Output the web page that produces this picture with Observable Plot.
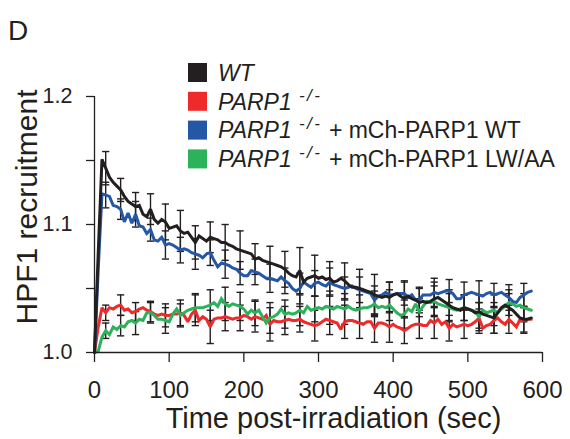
<!DOCTYPE html>
<html><head><meta charset="utf-8">
<script src="https://cdn.jsdelivr.net/npm/d3@7"></script>
<script src="https://cdn.jsdelivr.net/npm/@observablehq/plot@0.6"></script>
<style>
body{margin:0;background:#fff;}
#wrap{position:relative;width:570px;height:439px;font-family:"Liberation Sans",Arial,Helvetica,sans-serif;color:#231f20;}
#wrap > svg{position:absolute;left:0;top:0;}
#wrap g[aria-label="x-axis tick label"], #wrap g[aria-label="x-axis tick label"] text{font-size:24px !important;}
#wrap g[aria-label="y-axis tick label"], #wrap g[aria-label="y-axis tick label"] text{font-size:21.5px !important;}
</style></head><body><div id="wrap"></div>
<script>
const panelLabel = "D";
const xLabel = "Time post-irradiation (sec)";
const yLabel = "HPF1 recruitment";
const xTicks = [0, 100, 200, 300, 400, 500, 600];
const yTicks = [1.0, 1.05, 1.1, 1.15, 1.2];
const yTickLabels = ["1.0", "", "1.1", "", "1.2"];

const names = ["WT", "PARP1 -/-", "PARP1 -/- + mCh-PARP1 WT", "PARP1 -/- + mCh-PARP1 LW/AA"];
const colors = ["#231f20", "#ee2a2b", "#2457a6", "#2bb25a"];
const suffixes = ["", "", " + mCh-PARP1 WT", " + mCh-PARP1 LW/AA"];

const times = [0,5,10,15,20,25,30,35,40,45,50,55,60,65,70,75,80,85,90,95,100,105,110,115,120,125,130,135,140,145,150,155,160,165,170,175,180,185,190,195,200,205,210,215,220,225,230,235,240,245,250,255,260,265,270,275,280,285,290,295,300,305,310,315,320,325,330,335,340,345,350,355,360,365,370,375,380,385,390,395,400,405,410,415,420,425,430,435,440,445,450,455,460,465,470,475,480,485,490,495,500,505,510,515,520,525,530,535,540,545,550,555,560,565,570,575,580,585];

const wt = [1.000,1.078,1.151,1.144,1.137,1.133,1.130,1.127,1.122,1.118,1.116,1.114,1.115,1.108,1.106,1.112,1.104,1.101,1.104,1.102,1.097,1.098,1.099,1.095,1.093,1.094,1.090,1.086,1.091,1.089,1.087,1.090,1.089,1.088,1.086,1.086,1.084,1.083,1.081,1.080,1.079,1.078,1.077,1.073,1.074,1.072,1.071,1.070,1.069,1.068,1.067,1.065,1.062,1.060,1.059,1.064,1.055,1.058,1.059,1.060,1.058,1.059,1.057,1.058,1.055,1.056,1.058,1.056,1.053,1.051,1.051,1.050,1.049,1.048,1.047,1.045,1.044,1.043,1.044,1.043,1.045,1.046,1.044,1.042,1.044,1.042,1.041,1.039,1.040,1.039,1.040,1.042,1.043,1.041,1.039,1.037,1.035,1.034,1.033,1.035,1.034,1.033,1.031,1.032,1.030,1.029,1.028,1.027,1.031,1.035,1.037,1.035,1.033,1.030,1.027,1.026,1.026,1.027];

const ko = [1.000,1.020,1.035,1.031,1.035,1.034,1.036,1.037,1.033,1.034,1.031,1.032,1.034,1.035,1.033,1.032,1.030,1.029,1.030,1.029,1.029,1.030,1.030,1.031,1.029,1.024,1.030,1.033,1.025,1.028,1.026,1.020,1.026,1.027,1.027,1.028,1.027,1.026,1.027,1.027,1.029,1.028,1.026,1.028,1.027,1.026,1.029,1.022,1.025,1.024,1.024,1.025,1.026,1.025,1.025,1.026,1.024,1.023,1.022,1.021,1.022,1.024,1.026,1.025,1.024,1.023,1.018,1.024,1.025,1.025,1.024,1.023,1.022,1.024,1.024,1.019,1.023,1.023,1.022,1.020,1.022,1.020,1.019,1.017,1.019,1.021,1.022,1.022,1.021,1.021,1.025,1.023,1.026,1.022,1.024,1.019,1.022,1.020,1.021,1.022,1.021,1.022,1.024,1.027,1.019,1.021,1.022,1.025,1.027,1.024,1.022,1.026,1.023,1.020,1.026,1.025,1.026,1.026];

const koWT = [1.000,1.065,1.124,1.123,1.122,1.115,1.114,1.112,1.102,1.109,1.101,1.108,1.099,1.098,1.093,1.096,1.088,1.087,1.090,1.084,1.085,1.084,1.082,1.080,1.081,1.080,1.078,1.077,1.076,1.074,1.077,1.078,1.072,1.067,1.070,1.069,1.068,1.066,1.065,1.062,1.060,1.060,1.064,1.063,1.062,1.060,1.058,1.058,1.057,1.056,1.059,1.056,1.054,1.050,1.048,1.050,1.055,1.053,1.051,1.054,1.055,1.053,1.052,1.055,1.053,1.052,1.051,1.050,1.051,1.052,1.050,1.049,1.048,1.047,1.046,1.041,1.044,1.045,1.047,1.045,1.045,1.046,1.046,1.046,1.043,1.045,1.041,1.041,1.045,1.045,1.045,1.047,1.046,1.047,1.048,1.048,1.046,1.042,1.042,1.045,1.046,1.047,1.046,1.045,1.044,1.046,1.047,1.045,1.046,1.047,1.045,1.043,1.040,1.039,1.043,1.045,1.047,1.048];

const koLW = [1.000,1.001,1.012,1.017,1.014,1.020,1.018,1.021,1.020,1.024,1.025,1.023,1.026,1.025,1.031,1.031,1.029,1.026,1.026,1.025,1.024,1.030,1.034,1.029,1.031,1.033,1.034,1.035,1.035,1.035,1.036,1.037,1.039,1.036,1.042,1.038,1.036,1.038,1.037,1.036,1.034,1.030,1.033,1.031,1.033,1.028,1.023,1.027,1.028,1.030,1.034,1.030,1.031,1.030,1.031,1.033,1.031,1.036,1.033,1.034,1.035,1.034,1.036,1.035,1.034,1.036,1.035,1.034,1.036,1.034,1.033,1.034,1.035,1.035,1.036,1.038,1.035,1.036,1.035,1.037,1.034,1.031,1.029,1.030,1.034,1.032,1.038,1.032,1.036,1.040,1.039,1.040,1.038,1.037,1.036,1.035,1.034,1.033,1.034,1.035,1.034,1.033,1.032,1.028,1.033,1.031,1.032,1.033,1.031,1.034,1.036,1.039,1.038,1.036,1.037,1.035,1.034,1.033];

const errTimes = [15,35,55,75,95,115,135,155,175,195,215,235,255,275,295,315,335,355,375,395,415,435,455,475,495,515,535,555,575];
const wtErr   = [0.013,0.009,0.011,0.012,0.014,0.016,0.013,0.012,0.014,0.015,0.012,0.013,0.014,0.018,0.016,0.013,0.014,0.015,0.016,0.012,0.014,0.011,0.013,0.012,0.010,0.013,0.012,0.011,0.010];
const koErr   = [0.006,0.008,0.007,0.008,0.009,0.010,0.012,0.013,0.011,0.010,0.012,0.013,0.011,0.010,0.012,0.011,0.013,0.012,0.011,0.012,0.010,0.011,0.012,0.010,0.011,0.012,0.010,0.011,0.010];
const koWTErr = [0.010,0.008,0.010,0.009,0.011,0.010,0.012,0.010,0.011,0.009,0.010,0.011,0.010,0.012,0.010,0.011,0.009,0.010,0.011,0.010,0.009,0.010,0.011,0.009,0.010,0.011,0.009,0.010,0.009];
const koLWErr = [0.006,0.008,0.009,0.008,0.010,0.009,0.011,0.012,0.013,0.011,0.010,0.012,0.011,0.012,0.010,0.013,0.012,0.011,0.010,0.012,0.011,0.010,0.012,0.011,0.010,0.011,0.012,0.010,0.011];

const seriesValues = [wt, ko, koWT, koLW];
const seriesErrors = [wtErr, koErr, koWTErr, koLWErr];
const drawOrder = [1, 3, 2, 0];

const rows = [];
drawOrder.forEach(k => seriesValues[k].forEach((v, i) => rows.push({name: names[k], t: times[i], v})));
const errs = [];
seriesValues.forEach((vals, k) => seriesErrors[k].forEach((e, i) => {
  const t = errTimes[i];
  const v = vals[times.indexOf(t)];
  errs.push({name: names[k], t, lo: v - e, hi: v + e});
}));

const cap = {draw(ctx, size) { const r = Math.sqrt(size / Math.PI); ctx.moveTo(-r, 0); ctx.lineTo(r, 0); }};
const ink = "#231f20";
const font = '"Liberation Sans", Arial, Helvetica, sans-serif';

const chart = Plot.plot({
  width: 570, height: 439,
  marginLeft: 94, marginRight: 28, marginTop: 96, marginBottom: 87,
  style: {fontFamily: font, color: ink, background: "white", overflow: "visible"},
  x: {domain: [0, 600]},
  y: {domain: [1.0, 1.2]},
  color: {domain: names, range: colors},
  marks: [
    Plot.ruleX(errs, {x: "t", y1: "lo", y2: "hi", stroke: ink, strokeWidth: 1.4}),
    Plot.dot(errs, {x: "t", y: "lo", symbol: cap, r: 3.6, stroke: ink, strokeWidth: 1.4, fill: "none"}),
    Plot.dot(errs, {x: "t", y: "hi", symbol: cap, r: 3.6, stroke: ink, strokeWidth: 1.4, fill: "none"}),
    Plot.lineY(rows, {x: "t", y: "v", z: "name", stroke: "name", strokeWidth: 3, strokeLinejoin: "miter", strokeMiterlimit: 2}),
    Plot.ruleY([1.0], {stroke: ink, strokeWidth: 1.3}),
    Plot.ruleX([0], {stroke: ink, strokeWidth: 1.3}),
    Plot.axisX({ticks: xTicks, tickSize: 10, tickPadding: 18, fontSize: 24, label: null, strokeWidth: 1.3}),
    Plot.axisY({ticks: yTicks, tickFormat: d => yTickLabels[yTicks.findIndex(v => Math.abs(v - d) < 1e-9)], tickSize: 8, tickPadding: 14, fontSize: 21.5, label: null, strokeWidth: 1.3})
  ]
});
const wrap = document.getElementById("wrap");
wrap.appendChild(chart);

// overlay: panel label, axis titles and legend
const ov = d3.select(wrap).append("svg").attr("width", 570).attr("height", 439)
  .style("pointer-events", "none").attr("font-family", font).attr("fill", ink);
ov.append("text").attr("x", 8).attr("y", 40).attr("font-size", 28).text(panelLabel);
ov.append("text").attr("x", 333.5).attr("y", 428).attr("text-anchor", "middle").attr("font-size", 29).text(xLabel);
ov.append("text").attr("transform", "translate(37,207) rotate(-90)").attr("text-anchor", "middle").attr("font-size", 30).text(yLabel);
const rowCenters = [72.5, 101.3, 130.1, 158.9];
names.forEach((n, k) => {
  const cy = rowCenters[k];
  ov.append("rect").attr("x", 188).attr("y", cy - 9.5).attr("width", 19).attr("height", 19).attr("fill", colors[k]);
  const t = ov.append("text").attr("x", 218).attr("y", cy + 8.2).attr("font-size", 23).style("white-space", "pre");
  if (k === 0) {
    t.append("tspan").attr("font-style", "italic").text("WT");
  } else {
    t.append("tspan").attr("font-style", "italic").text("PARP1");
    t.append("tspan").attr("font-style", "italic").attr("font-size", 17).attr("dy", -9).attr("letter-spacing", 2.5).text(" -/-");
    if (suffixes[k]) t.append("tspan").attr("dy", 9).text(suffixes[k]);
  }
});
</script></body></html>
